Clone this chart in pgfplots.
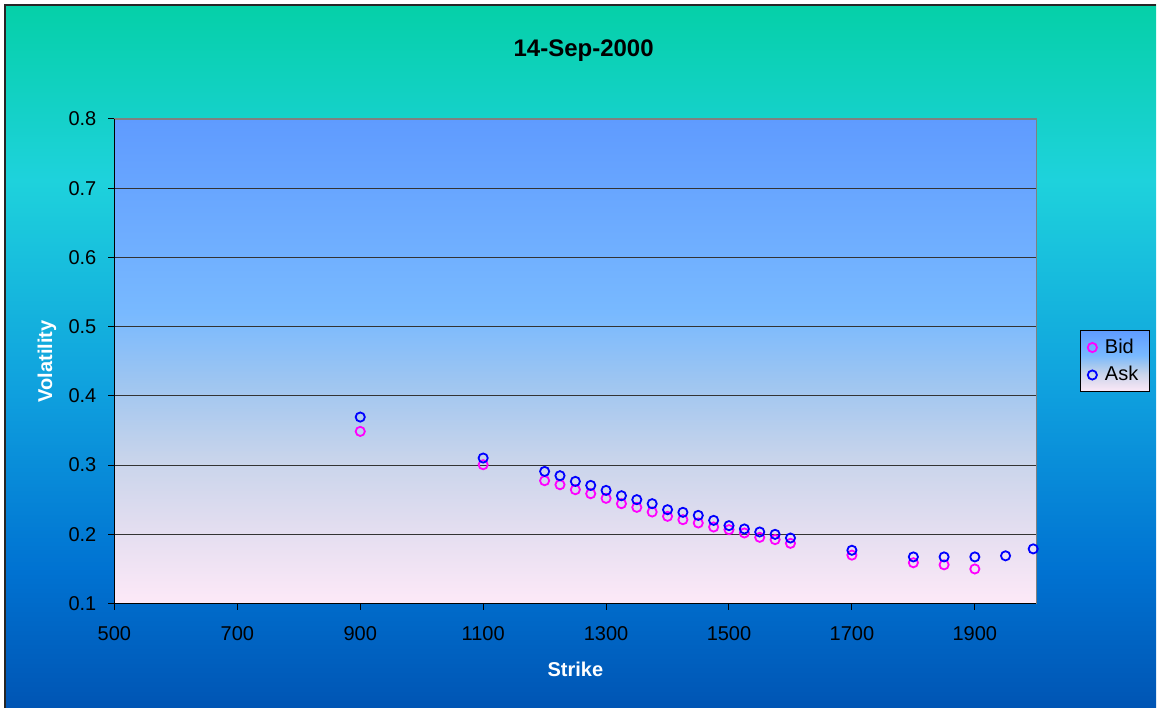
\documentclass[border=0pt]{standalone}
\usepackage{fontspec}
\setmainfont{Liberation Sans}
\usepackage{pgfplots}
\pgfplotsset{compat=1.18}

\definecolor{ob1}{RGB}{0,85,180}
\definecolor{ob2}{RGB}{0,115,210}
\definecolor{ob3}{RGB}{15,160,222}
\definecolor{ob4}{RGB}{30,210,220}
\definecolor{ob5}{RGB}{5,208,168}
\pgfdeclareverticalshading{outerbg}{100bp}{color(0bp)=(ob1); color(25bp)=(ob1); color(35bp)=(ob2); color(47.5bp)=(ob3); color(62.5bp)=(ob4); color(75bp)=(ob5); color(100bp)=(ob5)}

\definecolor{pb1}{RGB}{253,233,248}
\definecolor{pb2}{RGB}{228,222,240}
\definecolor{pb3}{RGB}{200,212,235}
\definecolor{pb4}{RGB}{160,198,240}
\definecolor{pb5}{RGB}{120,185,255}
\definecolor{pb6}{RGB}{95,155,255}
\pgfdeclareverticalshading{plotbg}{100bp}{color(0bp)=(pb1); color(25bp)=(pb1); color(32.5bp)=(pb2); color(40bp)=(pb3); color(47.5bp)=(pb4); color(55bp)=(pb5); color(75bp)=(pb6); color(100bp)=(pb6)}

\definecolor{bidc}{RGB}{255,0,255}
\definecolor{askc}{RGB}{0,0,255}

\pgfplotstableread{
x y
900 0.3487
1100 0.3006
1200 0.2775
1225 0.2717
1250 0.2645
1275 0.2587
1300 0.2520
1325 0.2443
1350 0.2390
1375 0.2323
1400 0.2260
1425 0.2212
1450 0.2164
1475 0.2106
1500 0.2068
1525 0.2020
1550 0.1957
1575 0.1924
1600 0.1870
1700 0.1700
1800 0.1590
1850 0.1560
1900 0.1500
}\bidtable

\pgfplotstableread{
x y
900 0.3694
1100 0.3102
1200 0.2909
1225 0.2847
1250 0.2765
1275 0.2707
1300 0.2635
1325 0.2558
1350 0.2501
1375 0.2443
1400 0.2356
1425 0.2318
1450 0.2274
1475 0.2202
1500 0.2126
1525 0.2078
1550 0.2034
1575 0.2000
1600 0.1947
1700 0.1770
1800 0.1674
1850 0.1674
1900 0.1674
1950 0.1690
1995 0.1790
}\asktable

\begin{document}
\begin{tikzpicture}
\fill[white] (0,0) rectangle (578.5pt,354pt);
\shade[shading=outerbg] (2.5pt,0) rectangle (578.5pt,351.5pt);
\draw[black!85, line width=0.8pt] (2.5pt,0) -- (2.5pt,351.5pt) -- (578.5pt,351.5pt);
\begin{axis}[
  at={(57.25pt,52pt)}, anchor=south west,
  scale only axis, width=461.25pt, height=242.5pt,
  xmin=500, xmax=2000, ymin=0.1, ymax=0.8,
  xtick={500,700,...,1900},
  ytick={0.1,0.2,...,0.8},
  /pgf/number format/assume math mode=true,
  xticklabel style={/pgf/number format/1000 sep={}, font=\fontsize{10}{12}\selectfont, yshift=-5pt},
  yticklabel style={/pgf/number format/fixed, /pgf/number format/precision=1, font=\fontsize{10}{12}\selectfont, xshift=-2.5pt},
  tick align=outside, major tick length=3pt,
  xtick pos=left, ytick pos=left,
  tick style={black, line width=0.5pt},
  axis line style={draw=black!50, line width=0.7pt},
  ymajorgrids, major grid style={black!80, line width=0.6pt},
  axis background/.style={shade, shading=plotbg},
  clip=false,
  title={14-Sep-2000},
  every axis title/.style={at={(axis description cs:0.509,1.140)}, anchor=center, font=\fontsize{12}{14}\selectfont\bfseries},
  xlabel={Strike},
  every axis x label/.style={at={(axis description cs:0.5,-0.136)}, anchor=center, font=\fontsize{10}{12}\selectfont\bfseries, text=white},
  ylabel={Volatility},
  every axis y label/.style={at={(axis description cs:-0.0732,0.5)}, anchor=center, rotate=90, font=\fontsize{10}{12}\selectfont\bfseries, text=white},
  legend style={at={(1.0477,0.5)}, anchor=west, draw=black, line width=0.5pt, shade, shading=plotbg, font=\fontsize{10}{12}\selectfont, inner xsep=3.5pt, inner ysep=2pt, row sep=1pt,
    /tikz/every odd column/.style={column sep=2pt}},
  legend cell align=left,
]
\addplot[only marks, mark=o, mark size=2.3pt, draw=bidc, mark options={line width=0.9pt}] table[x=x,y=y] {\bidtable};
\addlegendentry{Bid}
\addplot[only marks, mark=o, mark size=2.3pt, draw=askc, mark options={line width=0.9pt}] table[x=x,y=y] {\asktable};
\addlegendentry{Ask}
\draw[black, line width=0.7pt] (rel axis cs:0,1) -- (rel axis cs:0,0) -- (rel axis cs:1,0);
\end{axis}
\end{tikzpicture}
\end{document}
